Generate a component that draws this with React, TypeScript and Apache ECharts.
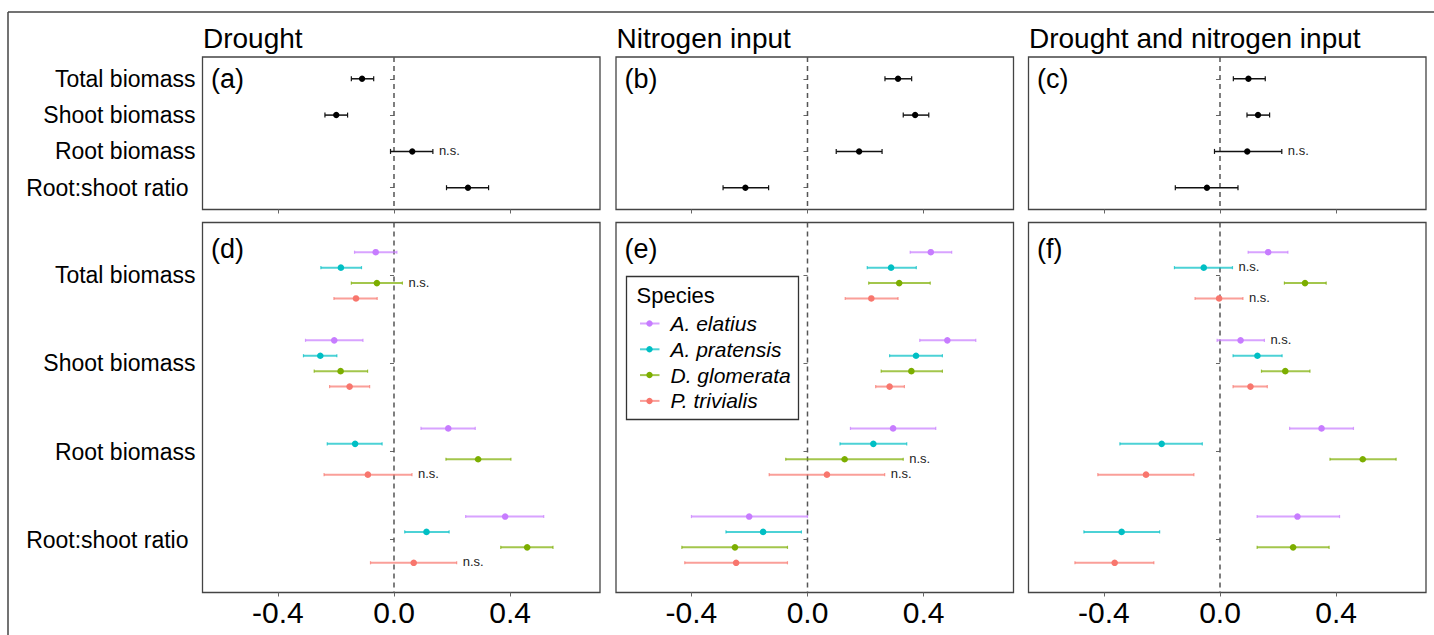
import React, { useEffect, useRef } from "react";
import * as echarts from "echarts";

// ---------- data ----------
const categories = ["Total biomass", "Shoot biomass", "Root biomass", "Root:shoot ratio"];
const panelTitles = ["Drought", "Nitrogen input", "Drought and nitrogen input"];
const topTags = ["(a)", "(b)", "(c)"];
const bottomTags = ["(d)", "(e)", "(f)"];
const xTicks = [-0.4, 0, 0.4];

const species = ["A. elatius", "A. pratensis", "D. glomerata", "P. trivialis"];
const speciesColors = ["#C77CFF", "#00BFC4", "#7CAE00", "#F8766D"];

// overall effects (top row): one value per category
const droughtMean = [-0.110, -0.199, 0.063, 0.255];
const droughtLo = [-0.147, -0.238, -0.012, 0.181];
const droughtHi = [-0.070, -0.160, 0.134, 0.326];
const droughtNS = [0, 0, 1, 0];

const nitrogenMean = [0.312, 0.371, 0.178, -0.214];
const nitrogenLo = [0.267, 0.330, 0.099, -0.291];
const nitrogenHi = [0.359, 0.418, 0.257, -0.134];
const nitrogenNS = [0, 0, 0, 0];

const bothMean = [0.098, 0.131, 0.094, -0.045];
const bothLo = [0.046, 0.093, -0.019, -0.154];
const bothHi = [0.156, 0.171, 0.213, 0.062];
const bothNS = [0, 0, 1, 0];

// species effects (bottom row): rows = species, columns = categories
const droughtSpMean = [
  [-0.063, -0.206, 0.187, 0.383],
  [-0.183, -0.254, -0.134, 0.112],
  [-0.059, -0.184, 0.290, 0.459],
  [-0.131, -0.153, -0.090, 0.068],
];
const droughtSpLo = [
  [-0.136, -0.305, 0.093, 0.247],
  [-0.252, -0.312, -0.230, 0.037],
  [-0.147, -0.275, 0.179, 0.368],
  [-0.207, -0.222, -0.241, -0.081],
];
const droughtSpHi = [
  [0.010, -0.107, 0.280, 0.516],
  [-0.112, -0.197, -0.041, 0.190],
  [0.029, -0.091, 0.403, 0.548],
  [-0.058, -0.084, 0.062, 0.216],
];
const droughtSpNS = [
  [0, 0, 0, 0],
  [0, 0, 0, 0],
  [1, 0, 0, 0],
  [0, 0, 1, 1],
];

const nitrogenSpMean = [
  [0.425, 0.482, 0.295, -0.201],
  [0.288, 0.374, 0.227, -0.153],
  [0.316, 0.358, 0.128, -0.250],
  [0.220, 0.283, 0.067, -0.246],
];
const nitrogenSpLo = [
  [0.354, 0.387, 0.148, -0.400],
  [0.206, 0.283, 0.112, -0.281],
  [0.211, 0.254, -0.075, -0.433],
  [0.130, 0.235, -0.132, -0.423],
];
const nitrogenSpHi = [
  [0.497, 0.580, 0.442, 0.000],
  [0.375, 0.465, 0.342, -0.021],
  [0.423, 0.465, 0.330, -0.069],
  [0.312, 0.334, 0.266, -0.069],
];
const nitrogenSpNS = [
  [0, 0, 0, 0],
  [0, 0, 0, 0],
  [0, 0, 1, 0],
  [0, 0, 1, 0],
];

const bothSpMean = [
  [0.166, 0.071, 0.350, 0.267],
  [-0.056, 0.129, -0.201, -0.339],
  [0.293, 0.225, 0.492, 0.252],
  [-0.003, 0.105, -0.255, -0.363],
];
const bothSpLo = [
  [0.097, -0.010, 0.240, 0.128],
  [-0.157, 0.045, -0.345, -0.469],
  [0.222, 0.143, 0.379, 0.128],
  [-0.086, 0.045, -0.421, -0.500],
];
const bothSpHi = [
  [0.234, 0.153, 0.460, 0.412],
  [0.043, 0.214, -0.061, -0.208],
  [0.366, 0.310, 0.607, 0.376],
  [0.079, 0.163, -0.090, -0.228],
];
const bothSpNS = [
  [0, 1, 0, 0],
  [1, 0, 0, 0],
  [0, 0, 0, 0],
  [1, 0, 0, 0],
];

// ---------- styling / layout ----------
const FONT = "'Liberation Sans', Arial, Helvetica, sans-serif";
const X_MIN = -0.66;
const X_MAX = 0.71;
const Y_MIN = 0.4;
const Y_MAX = 4.6;
const DODGE = 0.175;
const panelLefts = [202.5, 616, 1028.5];
const panelWidth = 397.5;
const topRow = { top: 57, height: 152.5 };
const bottomRow = { top: 222.5, height: 370 };

function hexAlpha(hex: string, a: number) {
  const r = parseInt(hex.slice(1, 3), 16);
  const g = parseInt(hex.slice(3, 5), 16);
  const b = parseInt(hex.slice(5, 7), 16);
  return `rgba(${r},${g},${b},${a})`;
}

function makeErrorSeries(
  idx: number,
  lo: number[],
  hi: number[],
  mean: number[],
  ns: number[],
  offset: number,
  color: string,
  barColor: string,
  barWidth: number,
  capHalf: number,
  radius: number
) {
  const data = categories.map((_, i) => [lo[i], hi[i], mean[i], i + 1 + offset, ns[i]]);
  return {
    type: "custom",
    xAxisIndex: idx,
    yAxisIndex: idx,
    coordinateSystem: "cartesian2d",
    encode: { x: [0, 1, 2], y: 3 },
    silent: true,
    z: 5,
    data,
    renderItem: (params: any, api: any) => {
      const y = api.value(3);
      const pLo = api.coord([api.value(0), y]);
      const pHi = api.coord([api.value(1), y]);
      const pM = api.coord([api.value(2), y]);
      const children: any[] = [
        {
          type: "line",
          shape: { x1: pLo[0], y1: pLo[1], x2: pHi[0], y2: pHi[1] },
          style: { stroke: barColor, lineWidth: barWidth },
        },
        {
          type: "line",
          shape: { x1: pLo[0], y1: pLo[1] - capHalf, x2: pLo[0], y2: pLo[1] + capHalf },
          style: { stroke: barColor, lineWidth: 1.2 },
        },
        {
          type: "line",
          shape: { x1: pHi[0], y1: pHi[1] - capHalf, x2: pHi[0], y2: pHi[1] + capHalf },
          style: { stroke: barColor, lineWidth: 1.2 },
        },
        {
          type: "circle",
          shape: { cx: pM[0], cy: pM[1], r: radius },
          style: { fill: color },
        },
      ];
      if (api.value(4) === 1) {
        children.push({
          type: "text",
          x: pHi[0] + 6,
          y: pHi[1] - 1,
          style: {
            text: "n.s.",
            fontSize: 13,
            fontFamily: FONT,
            fill: "#222",
            verticalAlign: "middle",
            align: "left",
          },
        });
      }
      return { type: "group", children };
    },
  };
}

function zeroLineSeries(idx: number) {
  return {
    type: "custom",
    xAxisIndex: idx,
    yAxisIndex: idx,
    coordinateSystem: "cartesian2d",
    encode: { x: 0, y: [1, 2] },
    silent: true,
    z: 3,
    data: [[0, Y_MIN, Y_MAX]],
    renderItem: (params: any, api: any) => {
      const a = api.coord([api.value(0), api.value(1)]);
      const b = api.coord([api.value(0), api.value(2)]);
      return {
        type: "line",
        shape: { x1: a[0], y1: a[1], x2: b[0], y2: b[1] },
        style: { stroke: "#555", lineWidth: 1.5, lineDash: [5, 4] },
      };
    },
  };
}

export default function App() {
  const ref = useRef<HTMLDivElement>(null);

  useEffect(() => {
    if (!ref.current) return;
    const chart = echarts.init(ref.current, undefined, { renderer: "svg" });

    const grids: any[] = [];
    const xAxes: any[] = [];
    const yAxes: any[] = [];
    const series: any[] = [];

    const rows = [topRow, bottomRow];
    rows.forEach((row, r) => {
      panelLefts.forEach((left, c) => {
        const idx = r * 3 + c;
        grids.push({
          left,
          top: row.top,
          width: panelWidth,
          height: row.height,
          show: true,
          borderColor: "#444",
          borderWidth: 1.3,
          backgroundColor: "#fff",
          containLabel: false,
        });
        xAxes.push({
          type: "value",
          gridIndex: idx,
          min: X_MIN,
          max: X_MAX,
          axisLine: { show: false },
          splitLine: { show: false },
          axisTick: {
            show: true,
            customValues: xTicks,
            length: 4,
            lineStyle: { color: "#666", width: 1 },
          },
          axisLabel: {
            show: r === 1,
            customValues: xTicks,
            formatter: (v: number) => v.toFixed(1),
            fontSize: 30,
            fontFamily: FONT,
            color: "#000",
            margin: 5,
          },
        });
        yAxes.push({
          type: "value",
          gridIndex: idx,
          min: Y_MIN,
          max: Y_MAX,
          inverse: true,
          axisLine: { show: false },
          splitLine: { show: false },
          axisTick: {
            show: true,
            customValues: [1, 2, 3, 4],
            length: 4,
            lineStyle: { color: "#666", width: 1 },
          },
          axisLabel: {
            show: c === 0,
            customValues: [1, 2, 3, 4],
            formatter: (v: number) => {
              const name = categories[Math.round(v) - 1] || "";
              return Math.round(v) === 4 ? `{r|${name}}` : `{n|${name}}`;
            },
            rich: {
              n: { fontSize: 23, fontFamily: FONT, color: "#000" },
              r: { fontSize: 23, fontFamily: FONT, color: "#000", padding: [0, 7, 0, 0] },
            },
            margin: 7,
          },
        });
        series.push(zeroLineSeries(idx));
      });
    });

    // top row: overall effects
    const topData = [
      [droughtLo, droughtHi, droughtMean, droughtNS],
      [nitrogenLo, nitrogenHi, nitrogenMean, nitrogenNS],
      [bothLo, bothHi, bothMean, bothNS],
    ];
    topData.forEach((d, c) => {
      series.push(makeErrorSeries(c, d[0], d[1], d[2], d[3], 0, "#000", "#111", 1.5, 2.5, 3.2));
    });

    // bottom row: species effects
    const bottomData = [
      [droughtSpLo, droughtSpHi, droughtSpMean, droughtSpNS],
      [nitrogenSpLo, nitrogenSpHi, nitrogenSpMean, nitrogenSpNS],
      [bothSpLo, bothSpHi, bothSpMean, bothSpNS],
    ];
    bottomData.forEach((d, c) => {
      species.forEach((sp, s) => {
        const offset = (s - 1.5) * DODGE;
        series.push(
          makeErrorSeries(
            3 + c,
            d[0][s],
            d[1][s],
            d[2][s],
            d[3][s],
            offset,
            speciesColors[s],
            hexAlpha(speciesColors[s], 0.7),
            2,
            1.6,
            3.3
          )
        );
      });
    });

    // graphics: figure frame, titles, tags, legend
    const graphic: any[] = [
      { type: "line", shape: { x1: 8, y1: 12, x2: 1434, y2: 12 }, style: { stroke: "#444", lineWidth: 1.5 }, z: 100 },
      { type: "line", shape: { x1: 8, y1: 12, x2: 8, y2: 635 }, style: { stroke: "#444", lineWidth: 1.5 }, z: 100 },
    ];
    panelTitles.forEach((t, c) => {
      graphic.push({
        type: "text",
        x: panelLefts[c] + 0.5,
        y: 38,
        style: { text: t, fontSize: 28, fontFamily: FONT, fill: "#000", verticalAlign: "middle", align: "left" },
        z: 100,
      });
      graphic.push({
        type: "text",
        x: panelLefts[c] + 8.5,
        y: 79,
        style: { text: topTags[c], fontSize: 27, fontFamily: FONT, fill: "#000", verticalAlign: "middle", align: "left" },
        z: 100,
      });
      graphic.push({
        type: "text",
        x: panelLefts[c] + 8.5,
        y: 249,
        style: { text: bottomTags[c], fontSize: 27, fontFamily: FONT, fill: "#000", verticalAlign: "middle", align: "left" },
        z: 100,
      });
    });

    // legend in panel (e)
    const legX = 626.5;
    const legY = 276.5;
    const legendChildren: any[] = [
      {
        type: "rect",
        shape: { x: legX, y: legY, width: 172, height: 143 },
        style: { fill: "#fff", stroke: "#333", lineWidth: 1.3 },
      },
      {
        type: "text",
        x: legX + 10,
        y: legY + 18.5,
        style: { text: "Species", fontSize: 22, fontFamily: FONT, fill: "#000", verticalAlign: "middle" },
      },
    ];
    species.forEach((sp, s) => {
      const yy = legY + 47 + s * 25.8;
      legendChildren.push({
        type: "line",
        shape: { x1: legX + 13.5, y1: yy, x2: legX + 33, y2: yy },
        style: { stroke: hexAlpha(speciesColors[s], 0.7), lineWidth: 2 },
      });
      legendChildren.push({
        type: "circle",
        shape: { cx: legX + 23, cy: yy, r: 3.2 },
        style: { fill: speciesColors[s] },
      });
      legendChildren.push({
        type: "text",
        x: legX + 44,
        y: yy,
        style: {
          text: sp,
          fontSize: 21,
          fontStyle: "italic",
          fontFamily: FONT,
          fill: "#000",
          verticalAlign: "middle",
        },
      });
    });
    graphic.push({ type: "group", children: legendChildren, z: 100 });

    chart.setOption({
      animation: false,
      backgroundColor: "#fff",
      grid: grids,
      xAxis: xAxes,
      yAxis: yAxes,
      series,
      graphic,
    });

    return () => chart.dispose();
  }, []);

  return (
    <div
      ref={ref}
      style={{ position: "fixed", left: 0, top: 0, width: 1434, height: 635, background: "#fff" }}
    />
  );
}
